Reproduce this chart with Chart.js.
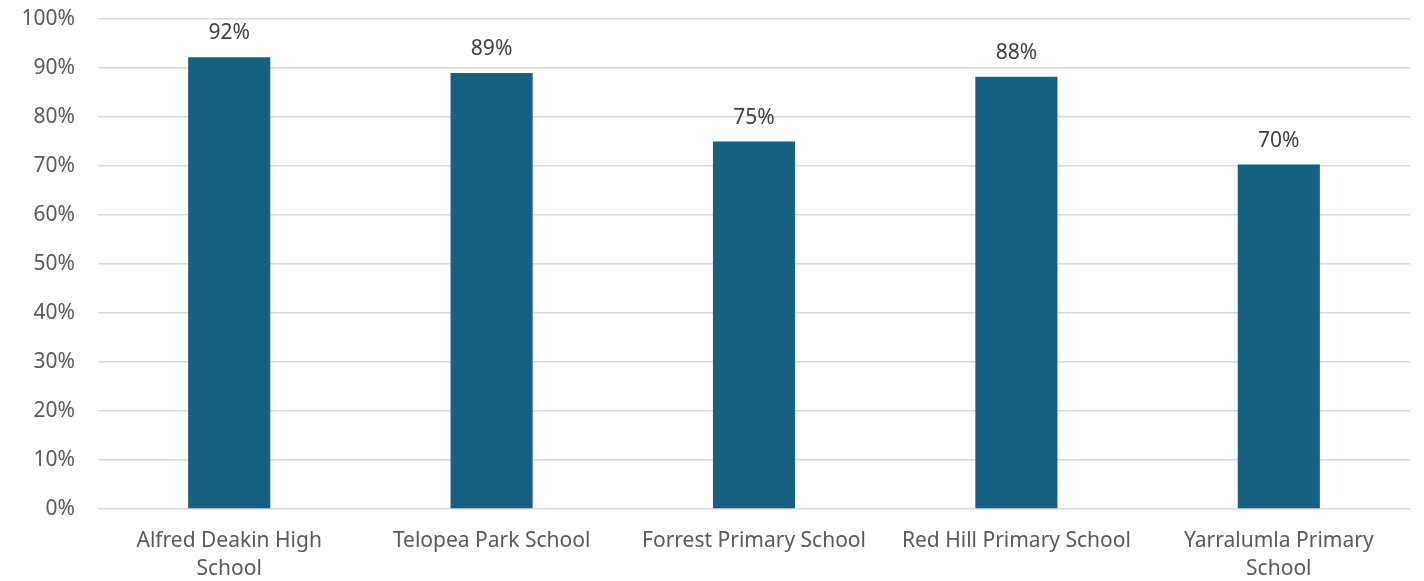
<!DOCTYPE html>
<html>
<head>
<meta charset="utf-8">
<script src="https://cdn.jsdelivr.net/npm/chart.js@4.4.1/dist/chart.umd.min.js"></script>
<style>
  html, body { margin: 0; padding: 0; background: #ffffff; }
  #wrap { width: 1424px; height: 581px; }
</style>
</head>
<body>
<div id="wrap"><canvas id="schoolChart" width="1424" height="581"></canvas></div>
<script>
// schools and their share (%)
const schools = [
    ['Alfred Deakin High', 'School'],
    'Telopea Park School',
    'Forrest Primary School',
    'Red Hill Primary School',
    ['Yarralumla Primary', 'School']
];
const shares = [92.2, 89, 75, 88.2, 70.3];
const yTicks = [0, 10, 20, 30, 40, 50, 60, 70, 80, 90, 100];

const FONT = '"Noto Sans", "Open Sans", sans-serif';

// writes the rounded value above each bar
const barValueLabels = {
    id: 'barValueLabels',
    afterDatasetsDraw(chart) {
        const ctx = chart.ctx;
        const meta = chart.getDatasetMeta(0);
        ctx.save();
        ctx.font = '21px ' + FONT;
        ctx.fillStyle = '#404040';
        ctx.textAlign = 'center';
        ctx.textBaseline = 'alphabetic';
        meta.data.forEach((bar, i) => {
            ctx.fillText(Math.round(shares[i]) + '%', bar.x, bar.y - 18);
        });
        ctx.restore();
    }
};

new Chart(document.getElementById('schoolChart'), {
    type: 'bar',
    data: {
        labels: schools,
        datasets: [{
            data: shares,
            backgroundColor: '#166082',
            borderWidth: 0,
            categoryPercentage: 1,
            barPercentage: 0.313
        }]
    },
    options: {
        responsive: false,
        animation: false,
        layout: { padding: { top: 19, right: 14, left: 0, bottom: 0 } },
        scales: {
            y: {
                min: 0,
                max: 100,
                afterFit(scale) {
                    scale.width = 98;
                    scale.paddingTop = 0;
                    scale.paddingBottom = 0;
                },
                afterBuildTicks(scale) { scale.ticks = yTicks.map(v => ({ value: v })); },
                border: { display: false },
                grid: { color: '#d9d9d9', lineWidth: 1.5, drawTicks: false },
                ticks: {
                    padding: 23,
                    color: '#595959',
                    font: { family: FONT, size: 21 },
                    callback: v => v + '%'
                }
            },
            x: {
                afterFit(scale) {
                    scale.height = 72;
                    scale.paddingLeft = 0;
                    scale.paddingRight = 0;
                },
                border: { display: false },
                grid: { display: false, drawTicks: false },
                ticks: {
                    padding: 18,
                    color: '#595959',
                    maxRotation: 0,
                    font: { family: FONT, size: 21, lineHeight: 1.33 }
                }
            }
        },
        plugins: {
            legend: { display: false },
            tooltip: { enabled: false }
        }
    },
    plugins: [barValueLabels]
});
</script>
</body>
</html>
